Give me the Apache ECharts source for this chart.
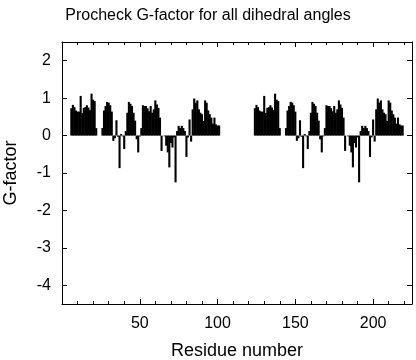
<!DOCTYPE html>
<html><head><meta charset="utf-8">
<script src="https://cdn.jsdelivr.net/npm/echarts@6/dist/echarts.min.js"></script>
<style>html,body{margin:0;padding:0;background:#fff}#c{width:416px;height:360px}</style>
</head><body><div id="c"></div>
<script>
// Chain A: residues 6..101
var chainAStart = 6;
var chainAValues = [
 0.73,0.82,0.76,0.67,0.64,0.64,1.06,0.60,0.74,0.76,
 0.81,0.75,0.68,1.12,0.96,0.92,0.20,null,null,null,
 0.20,0.67,0.79,0.90,0.88,0.81,0.64,-0.14,-0.07,0.41,
 -0.03,-0.87,0.04,-0.02,-0.36,0.12,0.61,0.90,0.85,0.79,
 0.61,0.40,-0.10,-0.45,-0.02,0.20,0.81,0.79,0.79,0.73,
 0.65,0.79,0.61,0.70,0.94,0.83,0.74,0.48,-0.41,null,
 -0.02,-0.27,-0.45,-0.85,-0.20,-0.32,-0.05,-1.25,0.12,0.26,
 0.20,0.26,0.20,0.12,-0.57,-0.05,0.43,-0.16,0.70,0.99,
 0.88,0.94,0.70,0.61,0.57,0.39,0.94,0.88,0.67,0.57,
 0.48,0.32,0.48,0.30,0.27,0.27
];
// Chain B: residues 124..219
var chainBStart = 124;
var chainBValues = [
 0.73,0.82,0.76,0.67,0.64,0.64,1.06,0.60,0.74,0.76,
 0.81,0.75,0.68,1.12,0.96,0.92,0.20,null,null,null,
 0.20,0.67,0.79,0.90,0.88,0.81,0.64,-0.14,-0.07,0.41,
 -0.03,-0.87,0.04,-0.02,-0.36,0.12,0.61,0.90,0.85,0.79,
 0.61,0.40,-0.10,-0.45,-0.02,0.20,0.81,0.79,0.79,0.73,
 0.65,0.79,0.61,0.70,0.94,0.83,0.74,0.48,-0.41,null,
 -0.02,-0.27,-0.45,-0.85,-0.20,-0.32,-0.05,-1.25,0.12,0.26,
 0.20,0.26,0.20,0.12,-0.57,-0.05,0.43,-0.16,0.70,0.99,
 0.88,0.94,0.70,0.61,0.57,0.39,0.94,0.88,0.67,0.57,
 0.48,0.32,0.48,0.30,0.27,0.27
];
var xTickLabels = [50, 100, 150, 200];
var yTickLabels = [2, 1, 0, -1, -2, -3, -4];

var data = [];
chainAValues.forEach(function(v, i){ if (v !== null) data.push([chainAStart + i, v]); });
chainBValues.forEach(function(v, i){ if (v !== null) data.push([chainBStart + i, v]); });

var FONT = 'Liberation Sans';
var axisLine = {show: true, onZero: false, lineStyle: {color: '#000', width: 1}};
function xAx(pos, labels) {
  return {
    type: 'value', position: pos, min: 0, max: 225, interval: 50,
    axisLine: axisLine,
    axisTick: {show: true, inside: true, length: 5, lineStyle: {color: '#000'}},
    minorTick: {show: true, splitNumber: 5, length: 3, lineStyle: {color: '#000'}},
    splitLine: {show: false},
    axisLabel: {show: labels, fontFamily: FONT, fontSize: 16, color: '#000', margin: 12,
      formatter: function(v){ return xTickLabels.indexOf(v) >= 0 ? String(v) : ''; }},
    name: labels ? 'Residue number' : '', nameLocation: 'middle', nameGap: 38,
    nameTextStyle: {fontFamily: FONT, fontSize: 18, color: '#000'}
  };
}
function yAx(pos, labels) {
  return {
    type: 'value', position: pos, min: -4.5, max: 2.5, splitNumber: 7,
    axisLine: axisLine,
    axisTick: {show: true, inside: true, length: 5, lineStyle: {color: '#000'},
      customValues: yTickLabels},
    splitLine: {show: false},
    axisLabel: {show: labels, fontFamily: FONT, fontSize: 16, color: '#000', margin: 11,
      formatter: function(v){ return yTickLabels.indexOf(v) >= 0 ? String(v) : ''; }},
    name: labels ? 'G-factor' : '', nameLocation: 'middle', nameGap: 42,
    nameTextStyle: {fontFamily: FONT, fontSize: 18, color: '#000'}
  };
}
var chart = echarts.init(document.getElementById('c'), null, {renderer: 'canvas'});
chart.setOption({
  animation: false,
  backgroundColor: '#fff',
  title: {text: 'Procheck G-factor for all dihedral angles', left: 'center', top: 3,
    textStyle: {fontFamily: FONT, fontSize: 16, fontWeight: 'normal', color: '#000'}},
  grid: {left: 62, right: 4, top: 42, bottom: 56, containLabel: false, outerBoundsMode: 'none'},
  xAxis: [xAx('bottom', true), xAx('top', false)],
  yAxis: [yAx('left', true), yAx('right', false)],
  series: [{
    type: 'bar', xAxisIndex: 0, yAxisIndex: 0, data: data,
    barWidth: 2.1, itemStyle: {color: '#000'}
  }]
});
</script></body></html>
